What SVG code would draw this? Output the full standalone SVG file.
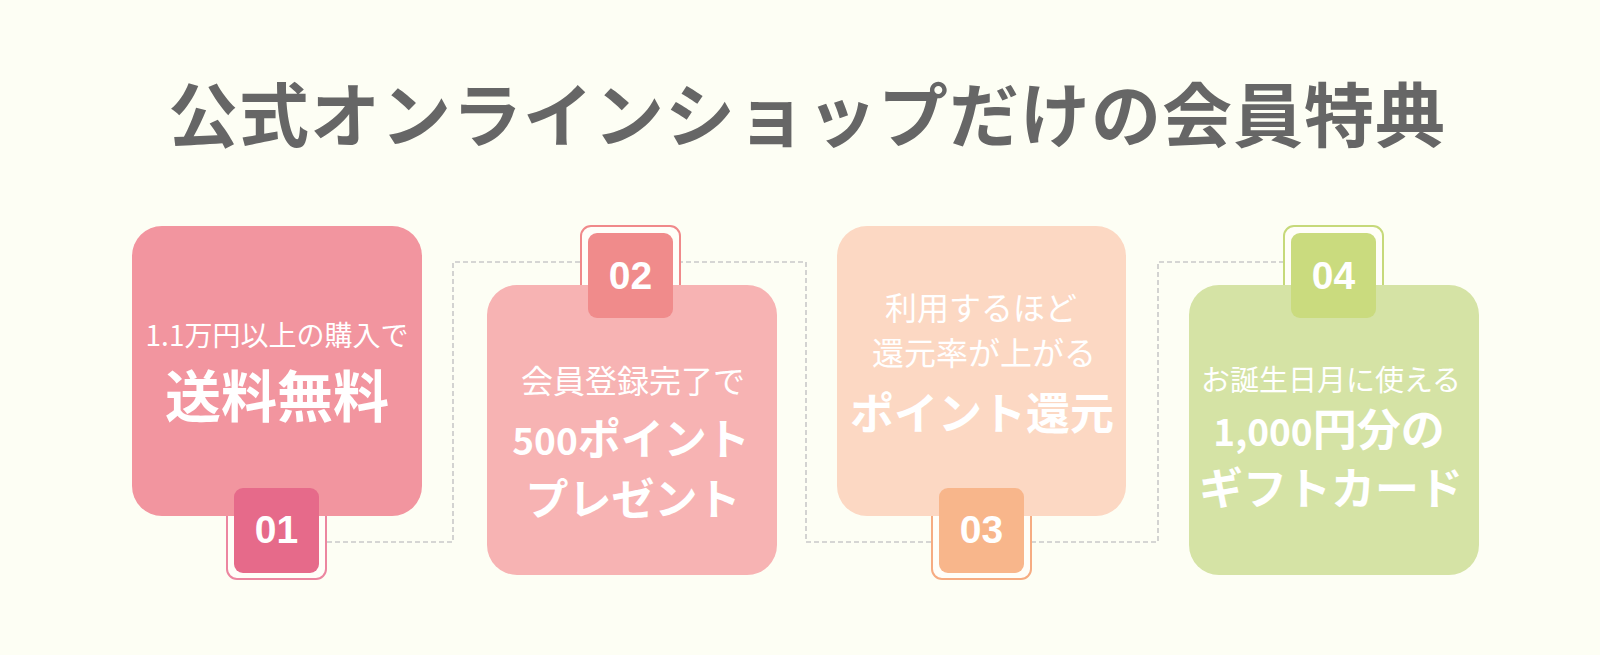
<svg xmlns="http://www.w3.org/2000/svg" width="1600" height="655" viewBox="0 0 1600 655">
  <style>
    .title { font-family: "Noto Sans CJK JP", "Noto Sans", sans-serif; font-weight: 700; font-size: 70px; fill: #666666; letter-spacing: 1px; }
    .sm { font-family: "Noto Sans CJK JP", "Noto Sans", sans-serif; font-weight: 400; fill: #ffffff; text-anchor: middle; }
    .bd { font-family: "Noto Sans CJK JP", "Noto Sans", sans-serif; font-weight: 700; fill: #ffffff; text-anchor: middle; }
    .dg { font-size: 37px; }
    .num { font-family: "Liberation Sans", Arial, sans-serif; font-weight: 700; font-size: 39px; fill: #ffffff; text-anchor: middle; }
    .frame { fill: #fffef8; stroke-width: 2; }
    .conn { fill: none; stroke: #c9c9c9; stroke-width: 1.6; stroke-dasharray: 5 3; }
  </style>
  <rect x="0" y="0" width="1600" height="655" fill="#fdfef4"/>

  <text class="title" x="807" y="142" text-anchor="middle">公式オンラインショップだけの会員特典</text>

  <g id="connectors">
    <path class="conn" d="M327,542 H453 V262 H580"/>
    <path class="conn" d="M678,262 H806 V542 H932"/>
    <path class="conn" d="M1031,542 H1158 V262 H1284"/>
  </g>

  <g id="node-01">
    <rect class="frame" x="227" y="481" width="99" height="98" rx="10" stroke="#ec86a0"/>
    <rect x="132" y="226" width="290" height="290" rx="30" fill="#f2959f"/>
    <rect x="234" y="488" width="85" height="85" rx="9" fill="#e66a8a"/>
    <text class="num" x="276.5" y="543">01</text>
    <text class="sm" x="277" y="346" font-size="28">1.1万円以上の購入で</text>
    <text class="bd" x="277" y="417" font-size="56">送料無料</text>
  </g>

  <g id="node-02">
    <rect class="frame" x="581" y="226" width="99" height="98" rx="10" stroke="#f0898a"/>
    <rect x="487" y="285" width="290" height="290" rx="30" fill="#f7b3b3"/>
    <rect x="588" y="233" width="85" height="85" rx="9" fill="#f08b8b"/>
    <text class="num" x="630.5" y="289">02</text>
    <text class="sm" x="633" y="393" font-size="32">会員登録完了で</text>
    <text class="bd" x="631" y="455" font-size="43"><tspan class="dg">500</tspan>ポイント</text>
    <text class="bd" x="633" y="515" font-size="43">プレゼント</text>
  </g>

  <g id="node-03">
    <rect class="frame" x="932" y="481" width="99" height="98" rx="10" stroke="#f6ac82"/>
    <rect x="837" y="226" width="289" height="290" rx="30" fill="#fcd8c3"/>
    <rect x="939" y="488" width="85" height="85" rx="9" fill="#f8b68b"/>
    <text class="num" x="981.5" y="543">03</text>
    <text class="sm" x="981" y="320" font-size="32">利用するほど</text>
    <text class="sm" x="984" y="365" font-size="32">還元率が上がる</text>
    <text class="bd" x="982" y="430" font-size="44">ポイント還元</text>
  </g>

  <g id="node-04">
    <rect class="frame" x="1284" y="226" width="99" height="98" rx="10" stroke="#c6d97a"/>
    <rect x="1189" y="285" width="290" height="290" rx="30" fill="#d5e3a5"/>
    <rect x="1291" y="233" width="85" height="85" rx="9" fill="#cadb7e"/>
    <text class="num" x="1333.5" y="289">04</text>
    <text class="sm" x="1331" y="391" font-size="29">お誕生日月に使える</text>
    <text class="bd" x="1329" y="446" font-size="44"><tspan class="dg">1,000</tspan>円分の</text>
    <text class="bd" x="1331" y="505" font-size="44">ギフトカード</text>
  </g>
</svg>
